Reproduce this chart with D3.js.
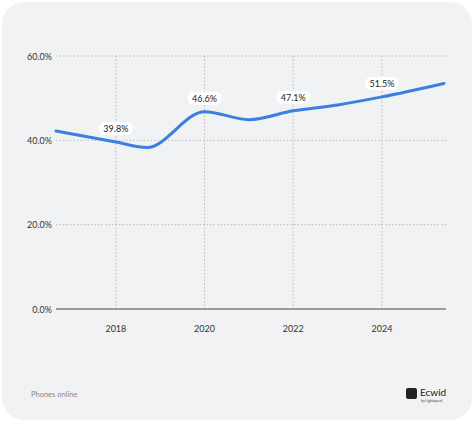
<!DOCTYPE html><html><head><meta charset="utf-8"><script src="https://cdn.jsdelivr.net/npm/d3@7"></script>
<style>body{margin:0;background:#fff}svg{display:block;font-family:Lato,"Open Sans",sans-serif}</style></head><body><svg width="474" height="423"></svg>
<script>
const years=[2016.65,2018,2018.7,2020,2021,2022,2023,2024,2025.4];
const values=[42.2,39.6,38.3,46.8,44.9,47.0,48.4,50.3,53.5];
const labelYears=[2018,2020,2022,2024];
const labelTexts=["39.8%","46.6%","47.1%","51.5%"];
const labelValues=[39.6,46.8,47.0,50.3];
const yTicks=[0,20,40,60];
const xTicks=[2018,2020,2022,2024];
const svg=d3.select("svg");
svg.append("rect").attr("x",2).attr("y",2).attr("width",470).attr("height",418).attr("rx",22).attr("fill","#f1f2f4");
const x=d3.scaleLinear().domain([2016.65,2025.4]).range([56,444]);
const y=d3.scaleLinear().domain([0,60]).range([309,56]);
const g=svg.append("g");
yTicks.forEach(t=>{
 if(t>0) g.append("line").attr("x1",56).attr("x2",446).attr("y1",y(t)).attr("y2",y(t)).attr("stroke","#bbb").attr("stroke-dasharray","1.5,2");
 g.append("text").attr("x",52).attr("y",y(t)+3.5).attr("text-anchor","end").attr("font-size",9).attr("fill","#333").text(t.toFixed(1)+"%");
});
xTicks.forEach(t=>{
 g.append("line").attr("x1",x(t)).attr("x2",x(t)).attr("y1",56).attr("y2",309).attr("stroke","#bbb").attr("stroke-dasharray","1.5,2");
 g.append("text").attr("x",x(t)).attr("y",332).attr("text-anchor","middle").attr("font-size",9).attr("fill","#333").text(t);
});
g.append("line").attr("x1",56).attr("x2",446).attr("y1",309).attr("y2",309).attr("stroke","#444").attr("stroke-width",1.2);
const line=d3.line().x((d,i)=>x(years[i])).y(d=>y(d)).curve(d3.curveMonotoneX);
g.append("path").attr("d",line(values)).attr("fill","none").attr("stroke","#3b7fe0").attr("stroke-width",3).attr("stroke-linecap","round");
labelYears.forEach((yr,i)=>{
 const cx=x(yr), cy=y(labelValues[i])-13;
 g.append("rect").attr("x",cx-17).attr("y",cy-7).attr("width",34).attr("height",13).attr("rx",6).attr("fill","#fff");
 g.append("text").attr("x",cx).attr("y",cy+3).attr("text-anchor","middle").attr("font-size",9).attr("fill","#222").text(labelTexts[i]);
});
svg.append("text").attr("x",31).attr("y",397).attr("font-size",7.5).attr("fill","#888").text("Phones online");
svg.append("rect").attr("x",406).attr("y",388).attr("width",11).attr("height",11).attr("rx",2).attr("fill","#222");
svg.append("text").attr("x",420).attr("y",396).attr("font-size",10).attr("fill","#222").text("Ecwid");
svg.append("text").attr("x",421).attr("y",402).attr("font-size",3.5).attr("fill","#444").text("by Lightspeed");
</script></body></html>
